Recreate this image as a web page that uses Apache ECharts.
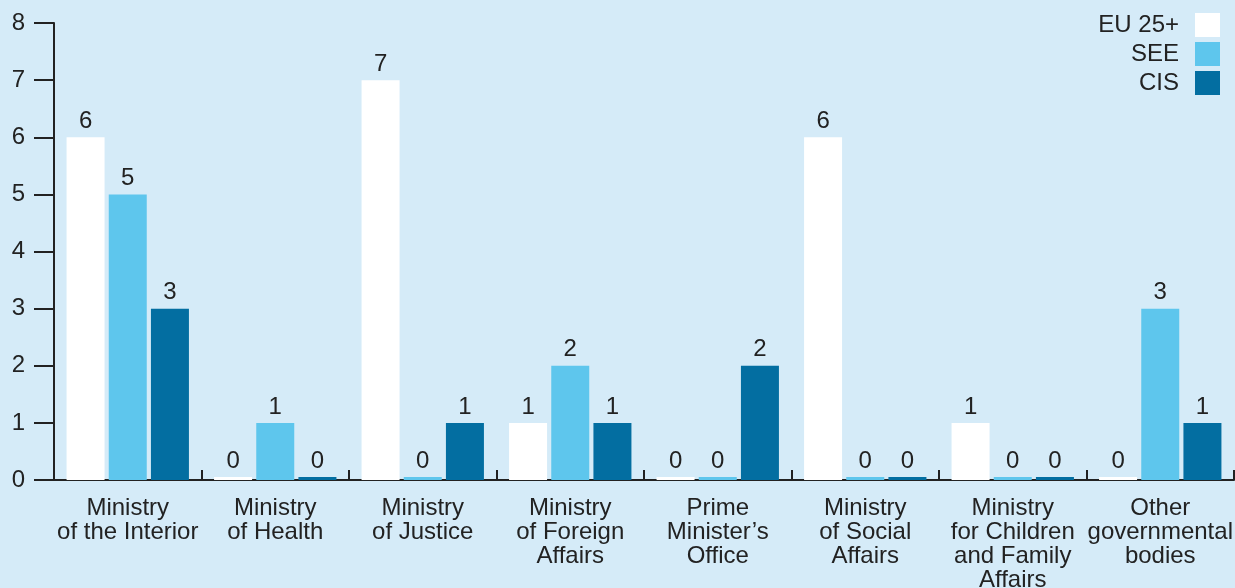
<!DOCTYPE html>
<html>
<head>
<meta charset="utf-8">
<script src="https://cdn.jsdelivr.net/npm/echarts@6/dist/echarts.min.js"></script>
<style>
  html, body { margin: 0; padding: 0; background: #d5ebf8; }
  #chart { width: 1235px; height: 588px; }
</style>
</head>
<body>
<div id="chart"></div>
<script>
// categories and values
let categories = [
  'Ministry\nof the Interior',
  'Ministry\nof Health',
  'Ministry\nof Justice',
  'Ministry\nof Foreign\nAffairs',
  'Prime\nMinister’s\nOffice',
  'Ministry\nof Social\nAffairs',
  'Ministry\nfor Children\nand Family\nAffairs',
  'Other\ngovernmental\nbodies'
];
let seriesNames = ['EU 25+', 'SEE', 'CIS'];
let eu25 = [6, 0, 7, 1, 0, 6, 1, 0];
let see = [5, 1, 0, 2, 0, 0, 0, 3];
let cis = [3, 0, 1, 1, 2, 0, 0, 1];
let colors = ['#ffffff', '#5ec6ed', '#036ea1'];

let font = 'Liberation Sans';
let textColor = '#222';

let chart = echarts.init(document.getElementById('chart'));

function makeSeries(name, data, color) {
  return {
    name: name,
    type: 'bar',
    data: data,
    barWidth: 38,
    barGap: '11%',
    barMinHeight: 3,
    itemStyle: { color: color },
    label: {
      show: true,
      position: 'top',
      distance: 4,
      fontFamily: font,
      fontSize: 24,
      color: textColor
    },
    emphasis: { disabled: true }
  };
}

chart.setOption({
  backgroundColor: '#d5ebf8',
  animation: false,
  textStyle: { fontFamily: font },
  legend: {
    right: 10,
    top: 8,
    orient: 'vertical',
    align: 'right',
    itemWidth: 25,
    itemHeight: 24,
    itemGap: 5,
    icon: 'rect',
    textStyle: { fontSize: 24, color: textColor, fontFamily: font, padding: [0, 11, 0, 0] },
    data: seriesNames
  },
  grid: {
    left: 54,
    right: 1,
    top: 23,
    bottom: 108,
    outerBoundsMode: 'none',
    containLabel: false
  },
  xAxis: {
    type: 'category',
    data: categories,
    axisLine: { lineStyle: { color: '#222', width: 2 } },
    axisTick: { show: true, inside: true, length: 10, lineStyle: { color: '#222', width: 2 } },
    axisLabel: {
      interval: 0,
      fontSize: 24,
      lineHeight: 24,
      color: textColor,
      margin: 16,
      fontFamily: font
    }
  },
  yAxis: {
    type: 'value',
    min: 0,
    max: 8,
    interval: 1,
    splitLine: { show: false },
    axisLine: { show: true, lineStyle: { color: '#222', width: 2 } },
    axisTick: { show: true, length: 20, lineStyle: { color: '#222', width: 2 } },
    axisLabel: { fontSize: 24, color: textColor, margin: 29, fontFamily: font }
  },
  series: [
    makeSeries(seriesNames[0], eu25, colors[0]),
    makeSeries(seriesNames[1], see, colors[1]),
    makeSeries(seriesNames[2], cis, colors[2])
  ]
});
</script>
</body>
</html>
